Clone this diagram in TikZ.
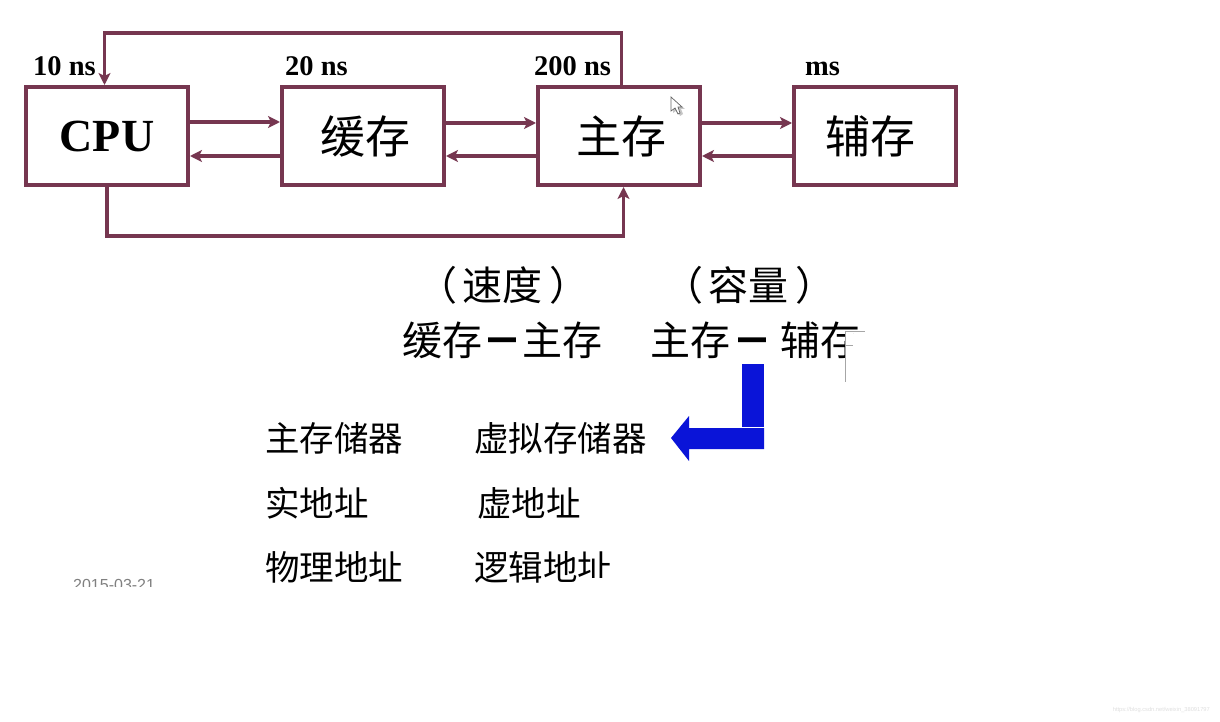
\documentclass[tikz,border=0pt]{standalone}
\usepackage{fontspec}
\setmainfont{Liberation Serif}
\newfontfamily\cjk{Noto Sans CJK SC}
\newfontfamily\datefont{Liberation Sans}
\usetikzlibrary{positioning,arrows.meta}

\definecolor{linkred}{HTML}{763650}
\definecolor{arrowblue}{HTML}{0A14D8}

\tikzset{
    unit/.style={draw=linkred,line width=4pt,minimum width=162pt,minimum height=98pt,inner sep=0pt},
    link/.style={draw=linkred,line width=3.6pt,-{Stealth[length=12pt,width=12pt,inset=3pt]}},
    time/.style={font=\fontsize{28.5}{28}\selectfont\bfseries,inner sep=0pt,anchor=base west},
    bigtext/.style={font=\fontsize{40}{40}\selectfont\cjk,inner sep=0pt,anchor=base west},
    listtext/.style={font=\fontsize{34.5}{35}\selectfont\cjk,inner sep=0pt,anchor=base west},
}

\begin{document}
\begin{tikzpicture}[x=1pt,y=-1pt,node distance=256pt]

    \useasboundingbox (0,0) rectangle (1220,722);
    \fill[white] (0,0) rectangle (1220,722);

    \node[unit] (cpu) at (107,136) {};
    \node[font=\fontsize{46}{46}\selectfont\bfseries] at (cpu) (cputext) {CPU};
    \node[unit] (cache) [right of = cpu] {};
    \node[unit] (mem) [right of = cache] {};
    \node[unit] (disk) [right of = mem] {};

    \node[font=\fontsize{45}{45}\selectfont\cjk] (cachetext) at (365,136) {缓存};
    \node[font=\fontsize{45}{45}\selectfont\cjk] (memtext) at (621,136) {主存};
    \node[font=\fontsize{45}{45}\selectfont\cjk] (disktext) at (870,136) {辅存};

    \node[time] (tcpu) at (33,76) {10 ns};
    \node[time] (tcache) at (285,76) {20 ns};
    \node[time] (tmem) at (534,76) {200 ns};
    \node[time] (tdisk) at (805,76) {ms};

    % forward and back between neighbours
    \draw[link] ([yshift=14pt]cpu.east) -- ([yshift=14pt]cache.west);
    \draw[link] ([yshift=-20pt]cache.west) -- ([yshift=-20pt]cpu.east);
    \draw[link] ([yshift=13pt]cache.east) -- ([yshift=13pt]mem.west);
    \draw[link] ([yshift=-20pt]mem.west) -- ([yshift=-20pt]cache.east);
    \draw[link] ([yshift=13pt]mem.east) -- ([yshift=13pt]disk.west);
    \draw[link] ([yshift=-20pt]disk.west) -- ([yshift=-20pt]mem.east);

    % the two long ways round
    \draw[link] ([xshift=2.5pt]mem.north) -- ++(0,-52) -| ([xshift=-2.5pt]cpu.north);
    \draw[link] (cpu.south) -- ++(0,49) -| ([xshift=4.5pt]mem.south);

    \node[bigtext] (speed) at (417,300) {（\hspace{5pt}速度\hspace{7pt}）};
    \node[bigtext] (size) at (663,300) {（\hspace{5pt}容量\hspace{7pt}）};
    \node[bigtext] (pairone) at (402,355) {缓存\textbf{－}主存};
    \node[bigtext] (pairtwo) at (650,355) {主存\hspace{2pt}\textbf{－}\hspace{8pt}辅存};

    % rubbed out part of the last character
    \fill[white] (846,334) rectangle (890,366);
    \draw[gray!70,line width=0.8pt] (845,331) -- (865,331) (845,331) -- (845,382) (845,345) -- (853,345);

    \fill[arrowblue] (742,364) rectangle (764,427);
    \fill[arrowblue] (764,428) -- (689,428) -- (689,416) -- (671,438) -- (689,461) -- (689,449) -- (764,449) -- cycle;

    \node[listtext] (realone) at (265,451) {主存储器};
    \node[listtext] (virtone) at (474,451) {虚拟存储器};
    \node[listtext] (realtwo) at (265,516) {实地址};
    \node[listtext] (virttwo) at (477,516) {虚地址};

    % the slide is cut off under this row
    \begin{scope}
        \clip (0,0) rectangle (1220,586);
        \node[listtext] (realthree) at (265,580) {物理地址};
        \node[listtext] (virtthree) at (474,580) {逻辑地址};
        \node[font=\fontsize{16}{16}\selectfont\datefont,text=gray,inner sep=0pt,anchor=base west] (date) at (73,590) {2015-03-21};
    \end{scope}
    \fill[white] (583,578) rectangle (618,587);

    % mouse pointer
    \fill[gray!45] (673,99) -- (673,113) -- (677,110) -- (680,116) -- (683,114) -- (681,109) -- (685,109) -- cycle;
    \draw[gray!80!black,fill=white,line width=0.7pt] (671,97) -- (671,111) -- (675,108) -- (678,114) -- (680,113) -- (678,107) -- (682,107) -- cycle;

    \node[font=\fontsize{5.7}{6}\selectfont\datefont,text=gray!25,inner sep=0pt,anchor=base east] (mark) at (1210,711) {https://blog.csdn.net/weixin\_38091797};

\end{tikzpicture}
\end{document}
